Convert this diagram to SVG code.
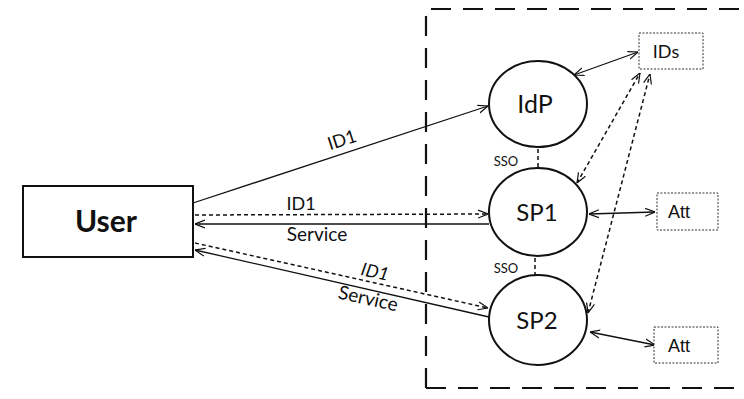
<svg xmlns="http://www.w3.org/2000/svg" width="744" height="399" viewBox="0 0 744 399">
<defs>
<marker id="ah" viewBox="0 0 10 10" refX="10" refY="5" markerWidth="10" markerHeight="10" markerUnits="userSpaceOnUse" orient="auto-start-reverse">
<path d="M0,1 L10,5 L0,9" fill="none" stroke="#111" stroke-width="1.2"/>
</marker>
<style>
.node{fill:#fff;stroke:#111;stroke-width:2}
.box{fill:#fff;stroke:#333;stroke-width:1;stroke-dasharray:2 1.5}
.solid{fill:none;stroke:#111;stroke-width:1.3}
.dash{fill:none;stroke:#111;stroke-width:1.5;stroke-dasharray:4 3}
.bound{fill:none;stroke:#111;stroke-width:2.2;stroke-dasharray:20 12}
.t{font-family:Lato,"Open Sans",sans-serif;fill:#111}
.a{font-family:"Liberation Sans",Arial,sans-serif;fill:#111}
</style>
</defs>
<rect width="744" height="399" fill="#fff"/>
<g id="boundary">
<path class="bound" d="M426,388 L426,9 L744,9"/>
<path class="bound" d="M426,388 L744,388"/>
</g>
<g id="connectors">
<line class="solid" x1="193" y1="203" x2="488" y2="106" marker-end="url(#ah)"/>
<line class="dash" x1="195" y1="215" x2="488" y2="214" marker-end="url(#ah)"/>
<line class="solid" x1="489" y1="224" x2="195" y2="224" marker-end="url(#ah)"/>
<line class="dash" x1="195" y1="243" x2="488" y2="308" marker-end="url(#ah)"/>
<line class="solid" x1="489" y1="317" x2="195" y2="250" marker-end="url(#ah)"/>
<line class="dash" x1="538" y1="149" x2="538" y2="168"/>
<line class="dash" x1="535" y1="258" x2="535" y2="275"/>
<line class="solid" x1="574" y1="75" x2="638" y2="52" marker-start="url(#ah)" marker-end="url(#ah)"/>
<line class="dash" x1="577" y1="183" x2="640" y2="73" marker-start="url(#ah)" marker-end="url(#ah)"/>
<line class="dash" x1="588" y1="313" x2="650" y2="74" marker-start="url(#ah)" marker-end="url(#ah)"/>
<line class="solid" x1="589" y1="214" x2="655" y2="212" marker-start="url(#ah)" marker-end="url(#ah)"/>
<line class="solid" x1="590" y1="332" x2="655" y2="345" marker-start="url(#ah)" marker-end="url(#ah)"/>
<text class="t" font-size="18" text-anchor="middle" transform="translate(342,140) rotate(-18)" y="6">ID1</text>
<text class="t" font-size="18" x="301" y="210" text-anchor="middle">ID1</text>
<text class="t" font-size="19" x="317" y="241" text-anchor="middle">Service</text>
<text class="t" font-size="18" font-style="italic" text-anchor="middle" transform="translate(375,272) rotate(12.4)" y="6">ID1</text>
<text class="t" font-size="19" text-anchor="middle" transform="translate(368,299) rotate(12.7)" y="6">Service</text>
<text class="t" font-size="13" x="506" y="166" text-anchor="middle">SSO</text>
<text class="t" font-size="13" x="506" y="273" text-anchor="middle">SSO</text>
</g>
<g id="user">
<rect class="node" x="23" y="186" width="170" height="71" stroke-width="1.8"/>
<text class="t" font-size="30" font-weight="bold" x="106" y="232" text-anchor="middle">User</text>
</g>
<g id="idp">
<ellipse class="node" cx="538" cy="104" rx="49" ry="43"/>
<text class="t" font-size="25" x="535" y="113" text-anchor="middle">IdP</text>
</g>
<g id="sp1">
<ellipse class="node" cx="538" cy="212" rx="49" ry="44"/>
<text class="t" font-size="24" x="537" y="221" text-anchor="middle">SP1</text>
</g>
<g id="sp2">
<ellipse class="node" cx="538" cy="320" rx="49" ry="45"/>
<text class="t" font-size="24" x="537" y="329" text-anchor="middle">SP2</text>
</g>
<g id="ids">
<rect class="box" x="639" y="33" width="64" height="36"/>
<text class="t" font-size="18" x="666" y="58" text-anchor="middle">IDs</text>
</g>
<g id="att1">
<rect class="box" x="657" y="193" width="61" height="37"/>
<text class="a" font-size="18" x="679" y="218" text-anchor="middle">Att</text>
</g>
<g id="att2">
<rect class="box" x="654" y="327" width="64" height="36"/>
<text class="a" font-size="18" x="679" y="352" text-anchor="middle">Att</text>
</g>
</svg>
